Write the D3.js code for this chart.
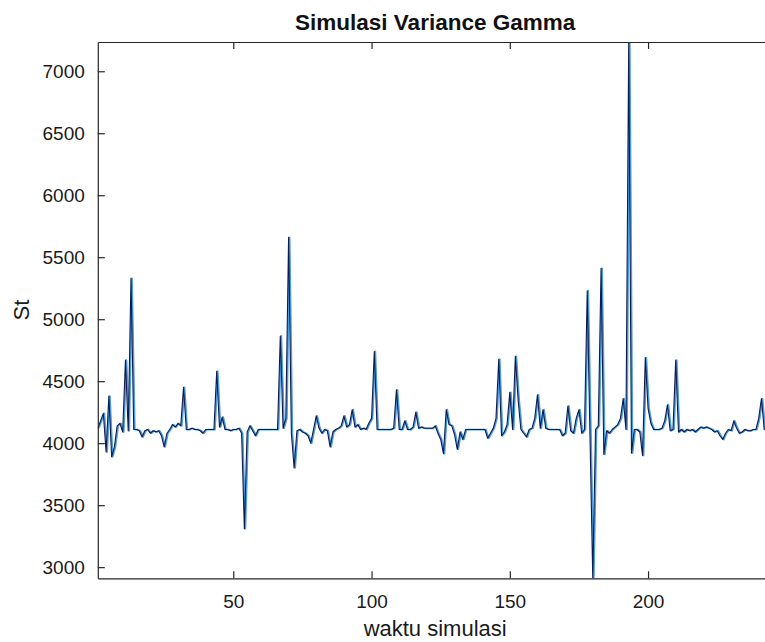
<!DOCTYPE html>
<html>
<head>
<meta charset="utf-8">
<script src="https://cdn.jsdelivr.net/npm/d3@7"></script>
<style>
  body { margin: 0; background: #fff; }
  svg { display: block; font-family: "Liberation Sans", Arial, Helvetica, sans-serif; }
</style>
</head>
<body>
<div id="chart"></div>
<script>
// Simulasi Variance Gamma - St per waktu simulasi

const stValues = [
    4120, 4180, 4240, 3930, 4380, 3890, 3970, 4140, 4160, 4090,
    4670, 4100, 5330, 4110, 4110, 4100, 4050, 4100, 4110, 4080,
    4100, 4090, 4100, 4060, 3970, 4080, 4110, 4150, 4130, 4160,
    4140, 4450, 4110, 4110, 4120, 4110, 4110, 4100, 4080, 4110,
    4110, 4110, 4110, 4580, 4130, 4210, 4110, 4110, 4100, 4110,
    4110, 4120, 4080, 3310, 4090, 4140, 4100, 4060, 4110, 4110,
    4110, 4110, 4110, 4110, 4110, 4110, 4865, 4120, 4200, 5660,
    4080, 3800, 4100, 4110, 4090, 4080, 4060, 4000, 4110, 4220,
    4120, 4080, 4110, 4100, 3970, 4090, 4110, 4120, 4140, 4220,
    4130, 4150, 4270, 4130, 4150, 4110, 4120, 4110, 4160, 4200,
    4740, 4110, 4110, 4110, 4110, 4110, 4110, 4120, 4430, 4110,
    4110, 4180, 4110, 4110, 4130, 4250, 4120, 4130, 4120, 4120,
    4120, 4120, 4140, 4080, 4030, 3915, 4270, 4150, 4140, 4070,
    3950, 4090, 4030, 4110, 4110, 4110, 4110, 4110, 4110, 4110,
    4110, 4040, 4080, 4120, 4200, 4677, 4060, 4090, 4150, 4410,
    4110, 4700, 4350, 4110, 4080, 4050, 4110, 4120, 4200, 4390,
    4120, 4270, 4120, 4110, 4110, 4110, 4110, 4110, 4060, 4080,
    4300, 4100, 4080, 4200, 4270, 4080, 4110, 5230, 4050, 2910,
    4110, 4140, 5410, 3910, 4100, 4080, 4110, 4130, 4150, 4200,
    4360, 4110, 7236, 3920, 4110, 4110, 4090, 3900, 4690, 4280,
    4160, 4110, 4110, 4110, 4120, 4180, 4310, 4100, 4110, 4670,
    4090, 4110, 4090, 4110, 4100, 4110, 4090, 4110, 4130, 4120,
    4130, 4120, 4110, 4090, 4100, 4060, 4030, 4080, 4110, 4100,
    4180, 4120, 4080, 4090, 4110, 4100, 4100, 4110, 4110, 4200,
    4360, 4110, 4110, 4110, 4110
];
const timeSteps = stValues.map((v, i) => i + 1);

const yTicks = [3000, 3500, 4000, 4500, 5000, 5500, 6000, 6500, 7000];
const xTicks = [50, 100, 150, 200];
const xDomain = [1, 245];
const yDomain = [2910, 7236];

const width = 765;
const height = 642;
const plot = { left: 97.8, right: 772.5, top: 42, bottom: 578.3 };

const svg = d3.select('#chart')
    .append('svg')
    .attr('width', width)
    .attr('height', height);

const x = d3.scaleLinear().domain(xDomain).range([plot.left, plot.right]);
const y = d3.scaleLinear().domain(yDomain).range([plot.bottom, plot.top]);

svg.append('defs').append('clipPath')
    .attr('id', 'plot-clip')
    .append('rect')
    .attr('x', plot.left)
    .attr('y', plot.top)
    .attr('width', plot.right - plot.left)
    .attr('height', plot.bottom - plot.top);

const points = timeSteps.map((t, i) => [t, stValues[i]]);
const line = d3.line()
    .x(d => x(d[0]))
    .y(d => y(d[1]));

// Lines: light blue shadow slightly right, dark navy/black on top
const lines = svg.append('g').attr('clip-path', 'url(#plot-clip)');
lines.append('path')
    .datum(points)
    .attr('d', line)
    .attr('transform', 'translate(1,0)')
    .attr('fill', 'none')
    .attr('stroke', '#4a9de0')
    .attr('stroke-width', 1.8)
    .attr('stroke-linejoin', 'round');
lines.append('path')
    .datum(points)
    .attr('d', line)
    .attr('fill', 'none')
    .attr('stroke', '#0d1b4d')
    .attr('stroke-width', 1.1)
    .attr('stroke-linejoin', 'round');

// Axes (ticks pointing inward, MATLAB style)
const axisColor = '#262626';

const yAxis = svg.append('g')
    .attr('transform', `translate(${plot.left},0)`)
    .call(d3.axisLeft(y).tickValues(yTicks).tickSize(-7).tickSizeOuter(0).tickPadding(13).tickFormat(d3.format('d')));

const xAxis = svg.append('g')
    .attr('transform', `translate(0,${plot.bottom})`)
    .call(d3.axisBottom(x).tickValues(xTicks).tickSize(-7).tickSizeOuter(0).tickPadding(16).tickFormat(d3.format('d')));

const xTop = svg.append('g')
    .attr('transform', `translate(0,${plot.top})`)
    .call(d3.axisTop(x).tickValues(xTicks).tickSize(-7).tickSizeOuter(0).tickFormat(''));

[yAxis, xAxis, xTop].forEach(a => {
    a.select('.domain').attr('stroke', axisColor).attr('stroke-width', 1.2);
    a.selectAll('.tick line').attr('stroke', axisColor).attr('stroke-width', 1.2);
    a.selectAll('.tick text')
        .attr('fill', '#1a1a1a')
        .attr('font-size', 19)
        .attr('font-family', '"Liberation Sans", Arial, sans-serif');
});

// Title and labels
svg.append('text')
    .attr('x', (plot.left + plot.right) / 2)
    .attr('y', 30)
    .attr('text-anchor', 'middle')
    .attr('font-size', 22.5)
    .attr('font-weight', 'bold')
    .attr('fill', '#111')
    .text('Simulasi Variance Gamma');

svg.append('text')
    .attr('x', (plot.left + plot.right) / 2)
    .attr('y', 636)
    .attr('text-anchor', 'middle')
    .attr('font-size', 22)
    .attr('fill', '#1a1a1a')
    .text('waktu simulasi');

svg.append('text')
    .attr('transform', `translate(29,${(plot.top + plot.bottom) / 2}) rotate(-90)`)
    .attr('text-anchor', 'middle')
    .attr('font-size', 22)
    .attr('fill', '#1a1a1a')
    .text('St');
</script>
</body>
</html>
